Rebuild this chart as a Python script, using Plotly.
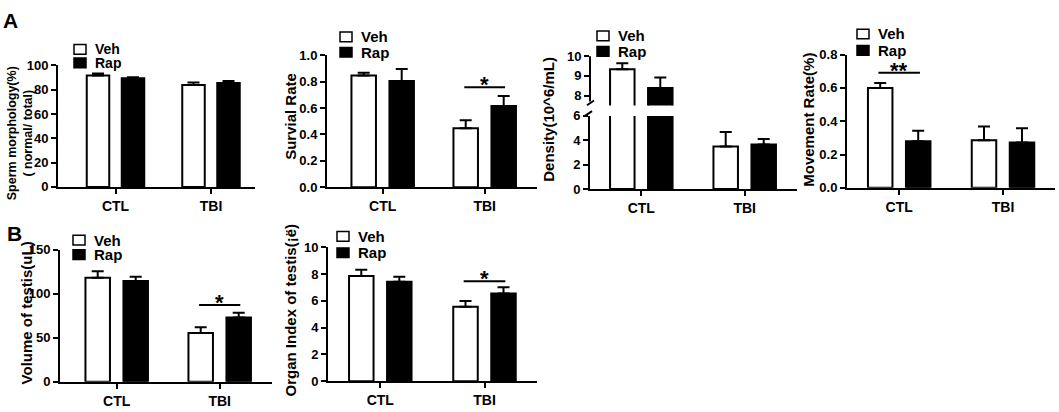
import plotly.graph_objects as go

W, H = 1059, 412
FONT = "Liberation Sans"

groups = ["CTL", "TBI"]

# A: sperm morphology (%)
morph_veh = [91.8, 83.9]
morph_veh_err = [1.5, 2.0]
morph_rap = [89.4, 85.5]
morph_rap_err = [1.0, 1.8]

# A: survival rate
surv_veh = [0.847, 0.447]
surv_veh_err = [0.02, 0.06]
surv_rap = [0.805, 0.615]
surv_rap_err = [0.09, 0.076]

# A: density (10^6/mL)
dens_veh = [9.34, 3.5]
dens_veh_err = [0.3, 1.17]
dens_rap = [8.39, 3.66]
dens_rap_err = [0.53, 0.45]

# A: movement rate
move_veh = [0.599, 0.285]
move_veh_err = [0.03, 0.083]
move_rap = [0.28, 0.272]
move_rap_err = [0.063, 0.085]

# B: volume of testis (uL)
vol_veh = [118, 55.4]
vol_veh_err = [7.3, 6.6]
vol_rap = [114.4, 72.9]
vol_rap_err = [4.8, 5.5]

# B: organ index of testis
organ_veh = [7.86, 5.56]
organ_veh_err = [0.45, 0.43]
organ_rap = [7.43, 6.55]
organ_rap_err = [0.36, 0.47]

# significance: (group index, level, label)
sig_surv = (1, 0.757, "*")
sig_move = (0, 0.69, "**")
sig_vol = (1, 87.1, "*")
sig_organ = (1, 7.45, "*")

fig = go.Figure()
shapes = []
annotations = []


def ax_names(i):
    s = "" if i == 1 else str(i)
    return "x" + s, "y" + s, "xaxis" + s, "yaxis" + s


def add_panel(i, veh, veh_err, rap, rap_err, xpx, ypx, cpx, yrange, tickvals,
              bw=24.5, gap=13.5, show_x=True, yfmt=None, tick_size=13):
    xid, yid, xa, ya = ax_names(i)
    ppu = cpx[1] - cpx[0]
    xr = [-(cpx[0] - xpx[0]) / ppu, 1 + (xpx[1] - cpx[1]) / ppu]
    for vals, errs, fill, off in [(veh, veh_err, "white", -(bw + gap / 2)),
                                  (rap, rap_err, "black", gap / 2)]:
        fig.add_trace(go.Bar(
            x=groups, y=vals, width=bw / ppu, offset=off / ppu,
            marker=dict(color=fill, line=dict(color="black", width=2)),
            error_y=dict(type="data", symmetric=False, array=errs,
                         arrayminus=[0] * len(errs), color="black",
                         thickness=2, width=6),
            xaxis=xid, yaxis=yid, showlegend=False))
    fig.update_layout({
        xa: dict(domain=[xpx[0] / W, xpx[1] / W], range=xr, anchor=yid,
                 type="category", showline=show_x, linecolor="black",
                 linewidth=2, ticks="outside" if show_x else "",
                 ticklen=5, tickwidth=2, tickcolor="black",
                 showticklabels=show_x, showgrid=False, zeroline=False,
                 tickfont=dict(size=14, color="black", family=FONT,
                               weight="bold")),
        ya: dict(domain=[1 - ypx[1] / H, 1 - ypx[0] / H], range=yrange,
                 anchor=xid, showline=True, linecolor="black", linewidth=2,
                 ticks="outside", ticklen=5, tickwidth=2, tickcolor="black",
                 tickvals=tickvals, tickformat=yfmt, showgrid=False,
                 zeroline=False,
                 tickfont=dict(size=tick_size, color="black", family=FONT,
                               weight="bold")),
    })
    return ppu


def add_legend(lx, ly, row=16, size=15):
    for k, (name, fill) in enumerate([("Veh", "white"), ("Rap", "black")]):
        top = ly + k * row
        shapes.append(dict(type="rect", xref="paper", yref="paper",
                           x0=lx / W, x1=(lx + 12) / W,
                           y0=1 - (top + 10) / H, y1=1 - top / H,
                           fillcolor=fill, line=dict(color="black", width=1.5)))
        annotations.append(dict(xref="paper", yref="paper", x=(lx + 19) / W,
                                y=1 - (top + 5) / H, text=name, showarrow=False,
                                xanchor="left", yanchor="middle",
                                font=dict(size=size, family=FONT, color="black",
                                          weight="bold")))


def add_ytitle(text, cx, cy, size=15):
    annotations.append(dict(xref="paper", yref="paper", x=cx / W, y=1 - cy / H,
                            text=text, showarrow=False, textangle=-90,
                            xanchor="center", yanchor="middle",
                            font=dict(size=size, family=FONT, color="black",
                                      weight="bold")))


def add_sig(i, sig, half=0.2):
    xid, yid, _, _ = ax_names(i)
    g, level, label = sig
    shapes.append(dict(type="line", xref=xid, yref=yid, x0=g - half,
                       x1=g + half, y0=level, y1=level,
                       line=dict(color="black", width=2)))
    annotations.append(dict(xref=xid, yref=yid, x=g, y=level, text=label,
                            showarrow=False, yanchor="bottom", yshift=-12,
                            font=dict(size=22, family=FONT, color="black",
                                      weight="bold")))


# Panel A1: sperm morphology
add_panel(1, morph_veh, morph_veh_err, morph_rap, morph_rap_err,
          (58, 255), (60.7, 186.7), (115.5, 211), [0, 100],
          [0, 20, 40, 60, 80, 100], bw=22.5, gap=12.5)
add_legend(74, 39, row=14, size=14)
add_ytitle("Sperm morphology(%)<br>( normal/ total)", 20, 131, size=12.5)

# Panel A2: survival rate
add_panel(2, surv_veh, surv_veh_err, surv_rap, surv_rap_err,
          (327, 537), (50, 187), (382.7, 484.7), [0, 1],
          [0, 0.2, 0.4, 0.6, 0.8, 1.0], yfmt=".1f")
add_legend(340, 26)
add_ytitle("Survial Rate", 291, 114)
add_sig(2, sig_surv)

# Panel A3: density with broken axis
add_panel(3, dens_veh, dens_veh_err, dens_rap, dens_rap_err,
          (590, 797), (113, 189), (641.3, 744.7), [0, 6], [0, 2, 4, 6])
add_panel(4, dens_veh, dens_veh_err, dens_rap, dens_rap_err,
          (590, 797), (51, 102.25), (641.3, 744.7), [7.5, 10], [8, 9, 10],
          show_x=False)
fig.update_layout(yaxis4=dict(showline=False))
shapes.append(dict(type="line", xref="paper", yref="paper",
                   x0=590 / W, x1=590 / W, y0=1 - 98 / H, y1=1 - 51 / H,
                   line=dict(color="black", width=2)))
for (xa0, ya0, xa1, ya1) in [(587, 102, 594, 97), (585, 113, 592, 108)]:
    shapes.append(dict(type="line", xref="paper", yref="paper",
                       x0=xa0 / W, x1=xa1 / W, y0=1 - ya0 / H, y1=1 - ya1 / H,
                       line=dict(color="black", width=2)))
add_legend(597, 25)
add_ytitle("Density(10^6/mL)", 549, 117)

# Panel A4: movement rate
add_panel(5, move_veh, move_veh_err, move_rap, move_rap_err,
          (847, 1055), (49.3, 187.7), (899.2, 1003), [0, 0.8],
          [0, 0.2, 0.4, 0.6, 0.8], yfmt=".1f")
add_legend(857, 23, row=17)
add_ytitle("Movement Rate(%)", 809, 117)
add_sig(5, sig_move)

# Panel B1: volume of testis
add_panel(6, vol_veh, vol_veh_err, vol_rap, vol_rap_err,
          (60, 272), (251.7, 389), (116.7, 219.7), [0, 150], [0, 50, 100, 150])
add_legend(73, 237, row=15)
add_ytitle("Volume of testis(uL)", 26, 318)
add_sig(6, sig_vol)

# Panel B2: organ index
add_panel(7, organ_veh, organ_veh_err, organ_rap, organ_rap_err,
          (328, 537), (249.3, 388.3), (380.3, 484.5), [0, 10],
          [0, 2, 4, 6, 8, 10])
add_legend(337, 233, row=17)
add_ytitle("Organ Index of testis(¡ë)", 291, 315)
add_sig(7, sig_organ)

# panel letters (box top-left anchored so they stay on the page)
for letter, lx, ly in [("A", 1, 0), ("B", 5, 221)]:
    annotations.append(dict(xref="paper", yref="paper", x=lx / W, y=1 - ly / H,
                            text=letter, showarrow=False, xanchor="left",
                            yanchor="top",
                            font=dict(size=21, family=FONT, color="black",
                                      weight="bold")))

fig.update_layout(
    width=W, height=H, margin=dict(l=0, r=0, t=0, b=0),
    paper_bgcolor="white", plot_bgcolor="white", barmode="overlay",
    font=dict(family=FONT, color="black", weight="bold"),
    shapes=shapes, annotations=annotations, showlegend=False,
)

# page margin off so the 1059x412 figure fills the window exactly
fig.write_html("out.html", config={"displayModeBar": False},
               post_script="document.body.style.margin='0';"
                           "document.body.style.overflow='hidden';")
